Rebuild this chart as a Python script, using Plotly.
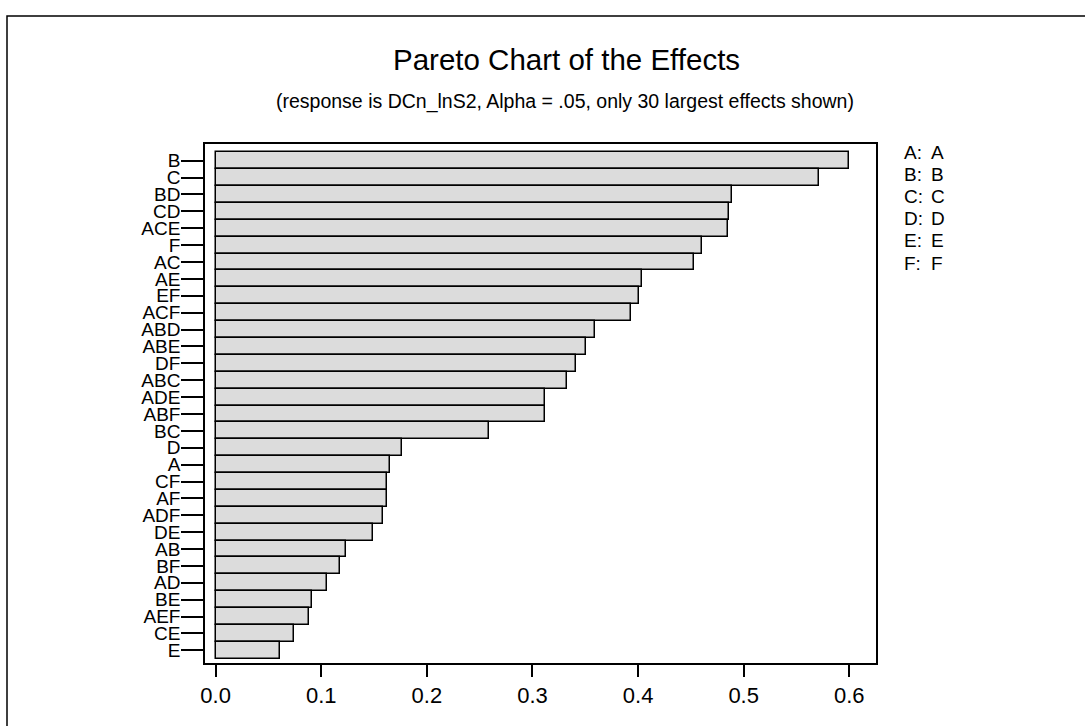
import plotly.graph_objects as go

# ---- data ----
effects = ["B", "C", "BD", "CD", "ACE", "F", "AC", "AE", "EF", "ACF",
           "ABD", "ABE", "DF", "ABC", "ADE", "ABF", "BC", "D", "A", "CF",
           "AF", "ADF", "DE", "AB", "BF", "AD", "BE", "AEF", "CE", "E"]
effect_values = [0.600, 0.571, 0.489, 0.486, 0.485, 0.461, 0.453, 0.404, 0.401, 0.393,
                 0.359, 0.351, 0.341, 0.333, 0.312, 0.312, 0.259, 0.176, 0.165, 0.162,
                 0.162, 0.158, 0.149, 0.123, 0.118, 0.105, 0.091, 0.088, 0.074, 0.061]
x_ticks = [0.0, 0.1, 0.2, 0.3, 0.4, 0.5, 0.6]
x_tick_labels = ["0.0", "0.1", "0.2", "0.3", "0.4", "0.5", "0.6"]
factor_keys = ["A:", "B:", "C:", "D:", "E:", "F:"]
factor_names = ["A", "B", "C", "D", "E", "F"]

title_text = "Pareto Chart of the Effects"
subtitle_text = "(response is DCn_lnS2, Alpha = .05, only 30 largest effects shown)"

FONT = "Liberation Sans, Arial, sans-serif"

# plot area in pixels
W, H = 1085, 726
L, R, T, B = 205, 876, 144, 663
pw, ph = R - L, B - T


def px(xp):
    return (xp - L) / pw


def py(yp):
    return (B - yp) / ph


fig = go.Figure()
fig.add_trace(go.Bar(
    x=effect_values, y=effects, orientation="h",
    marker=dict(color="#DCDCDC", line=dict(color="black", width=1.5)),
    hoverinfo="x+y",
))

annotations = [
    dict(text=title_text, x=px(566), y=py(59), xref="paper", yref="paper",
         showarrow=False, font=dict(family=FONT, size=29.5, color="black"),
         xanchor="center", yanchor="middle"),
    dict(text=subtitle_text, x=px(565), y=py(102), xref="paper", yref="paper",
         showarrow=False, font=dict(family=FONT, size=19.5, color="black"),
         xanchor="center", yanchor="middle"),
]
for i, (k, n) in enumerate(zip(factor_keys, factor_names)):
    yc = 152 + i * 22.2
    annotations.append(dict(text=k, x=px(902), y=py(yc), xref="paper", yref="paper",
                            showarrow=False, xanchor="left", yanchor="middle",
                            font=dict(family=FONT, size=19, color="black")))
    annotations.append(dict(text=n, x=px(929), y=py(yc), xref="paper", yref="paper",
                            showarrow=False, xanchor="left", yanchor="middle",
                            font=dict(family=FONT, size=19, color="black")))

fig.update_layout(
    width=W, height=H,
    margin=dict(l=L, r=W - R, t=T, b=H - B),
    paper_bgcolor="white", plot_bgcolor="white",
    showlegend=False, bargap=0.0,
    font=dict(family=FONT, color="black"),
    annotations=annotations,
    shapes=[dict(type="rect", xref="paper", yref="paper",
                 x0=px(7), x1=px(1100), y0=py(740), y1=py(16),
                 line=dict(color="black", width=1.5), fillcolor="rgba(0,0,0,0)",
                 layer="below")],
)
fig.update_xaxes(
    range=[-0.0101, 0.6253], tickvals=x_ticks, ticktext=x_tick_labels,
    ticks="outside", ticklen=12, tickwidth=1.5, tickcolor="black",
    showline=True, mirror=True, linecolor="black", linewidth=1.5,
    showgrid=False, zeroline=False,
    tickfont=dict(family=FONT, size=22, color="black"),
)
fig.update_yaxes(
    type="category", categoryorder="array", categoryarray=effects,
    tickmode="linear", tick0=0, dtick=1,
    range=[29.75, -0.99],
    ticks="outside", ticklen=22, tickwidth=1.5, tickcolor="black",
    ticklabelstandoff=-3,
    showline=True, mirror=True, linecolor="black", linewidth=1.5,
    showgrid=False, zeroline=False,
    tickfont=dict(family=FONT, size=19, color="black"),
)

fig.write_html("out.html", config={"displayModeBar": False},
               post_script="document.body.style.margin='0';")
